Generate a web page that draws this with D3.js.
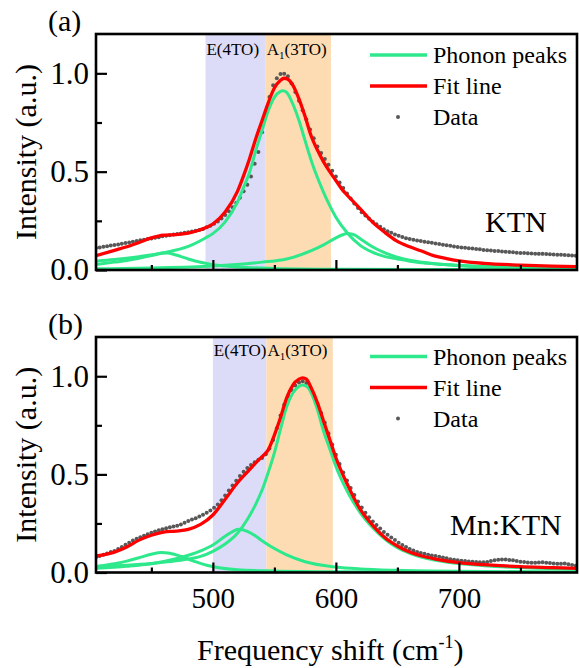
<!DOCTYPE html>
<html>
<head>
<meta charset="utf-8">
<script src="https://cdn.jsdelivr.net/npm/d3@7/dist/d3.min.js"></script>
<style>
body { margin: 0; background: #fff; }
svg text { font-family: "Liberation Serif", "Times New Roman", serif; fill: #000; }
</style>
</head>
<body>
<svg id="chart" width="579" height="668"></svg>
<script>
// raman shift grid of the measured points (cm-1)
var dataShift = d3.range(405, 796, 3);

// measured intensity, KTN
var dataA = [
	.112, .115, .118, .121, .124, .127, .130, .134, .137, .140, .144, .148, .151, .154, .157, .160,
	.164, .167, .171, .174, .177, .180, .183, .186, .189, .192, .196, .200, .204, .209, .217, .225,
	.235, .246, .262, .280, .299, .319, .341, .368, .400, .434, .475, .540, .600, .700, .800, .880,
	.940, .975, .997, .998, .985, .948, .905, .860, .812, .765, .715, .670, .628, .595, .565, .535,
	.505, .475, .445, .417, .389, .363, .338, .315, .294, .277, .260, .245, .232, .220, .207, .197,
	.189, .181, .174, .168, .162, .157, .154, .150, .147, .144, .141, .138, .135, .132, .129, .126,
	.123, .120, .117, .115, .113, .111, .109, .107, .105, .102, .101, .099, .097, .096, .094, .093,
	.091, .090, .088, .087, .086, .085, .084, .083, .082, .082, .081, .080, .079, .078, .077, .076,
	.075, .074, .073
];

// measured intensity, Mn:KTN
var dataB = [
	.078, .084, .090, .097, .104, .110, .120, .130, .141, .152, .163, .172, .179, .187, .195, .203,
	.209, .215, .221, .226, .230, .234, .238, .245, .254, .262, .270, .277, .285, .294, .304, .316,
	.330, .347, .368, .392, .418, .443, .468, .492, .514, .532, .548, .562, .574, .584, .603, .632,
	.675, .735, .800, .855, .898, .930, .953, .968, .975, .966, .940, .905, .860, .813, .763, .708,
	.652, .600, .553, .510, .469, .430, .395, .362, .331, .305, .281, .260, .242, .224, .207, .192,
	.178, .165, .152, .140, .130, .120, .112, .105, .099, .095, .091, .087, .084, .080, .076, .072,
	.068, .065, .062, .060, .058, .056, .055, .053, .052, .052, .054, .058, .062, .065, .066, .066,
	.064, .062, .058, .055, .053, .051, .050, .050, .051, .052, .050, .048, .046, .045, .045, .046,
	.042, .038, .035
];

// fit line, [shift, intensity]
var fitA = [[405, .073], [420, .10], [430, .118], [440, .14], [450, .163], [460, .177], [470, .18],
	[480, .188], [490, .205], [500, .234], [510, .295], [520, .40], [525, .48], [530, .57], [535, .67],
	[540, .76], [545, .85], [550, .925], [555, .965], [558, .975], [561, .97], [565, .94], [570, .87],
	[575, .78], [580, .68], [585, .61], [590, .55], [595, .50], [600, .455], [605, .41], [610, .375],
	[616, .336], [620, .31], [630, .242], [640, .19], [649, .149], [660, .118], [669, .098], [680, .072],
	[690, .058], [700, .047], [720, .034], [750, .025], [775, .02], [796, .017]];

var fitB = [[405, .084], [420, .104], [430, .13], [440, .165], [450, .19], [460, .206], [470, .211],
	[480, .22], [490, .245], [500, .293], [510, .373], [520, .457], [530, .525], [535, .56], [540, .59],
	[545, .625], [550, .70], [555, .79], [560, .89], [565, .955], [570, .985], [573, .992], [576, .985],
	[580, .94], [585, .865], [590, .771], [595, .678], [600, .585], [610, .44], [620, .32], [630, .24],
	[640, .177], [650, .135], [660, .104], [670, .084], [680, .07], [700, .05], [720, .04], [750, .03],
	[775, .025], [796, .021]];

// phonon peaks
var peaksA = [
	[[405, .028], [420, .04], [430, .048], [440, .06], [450, .073], [458, .085], [463, .087], [470, .076],
		[480, .056], [490, .039], [500, .027], [510, .02], [520, .015], [550, .008], [600, .004], [700, .002], [796, .001]],
	[[405, .045], [420, .053], [440, .068], [460, .088], [480, .12], [494, .163], [500, .185], [510, .245],
		[520, .345], [525, .42], [530, .50], [535, .61], [540, .71], [545, .81], [550, .878], [555, .908],
		[557, .912], [560, .903], [565, .844], [570, .76], [575, .657], [580, .556], [585, .47], [590, .395],
		[595, .327], [600, .268], [610, .183], [620, .124], [630, .09], [640, .068], [650, .056], [660, .045],
		[680, .032], [700, .024], [750, .014], [796, .009]],
	[[405, .006], [450, .01], [500, .02], [540, .04], [560, .056], [580, .098], [590, .128], [600, .163],
		[605, .178], [610, .185], [615, .178], [620, .158], [630, .117], [640, .087], [650, .065], [660, .05],
		[680, .032], [700, .022], [750, .011], [796, .006]]
];

var peaksB = [
	[[405, .03], [420, .045], [430, .058], [440, .075], [450, .093], [458, .102], [465, .098], [475, .08],
		[485, .057], [495, .037], [505, .024], [520, .014], [550, .008], [600, .004], [700, .002], [796, .001]],
	[[405, .022], [430, .032], [450, .045], [470, .07], [490, .11], [500, .14], [510, .185], [515, .205],
		[521, .22], [528, .21], [535, .185], [540, .162], [550, .122], [560, .09], [575, .055], [600, .028],
		[620, .018], [650, .011], [700, .006], [796, .003]],
	[[405, .03], [430, .037], [450, .046], [470, .06], [490, .082], [500, .108], [510, .145], [520, .20],
		[528, .27], [535, .35], [540, .42], [545, .51], [550, .61], [555, .73], [560, .845], [565, .915],
		[570, .948], [573, .955], [577, .945], [581, .9], [585, .83], [590, .72], [595, .63], [600, .54],
		[610, .405], [620, .303], [630, .228], [640, .169], [650, .126], [660, .098], [670, .078], [680, .064],
		[700, .046], [720, .035], [750, .025], [796, .016]]
];

// shaded mode regions: E(4TO) from [0] to [1], A1(3TO) from [1] to [2]
var bandsA = [494, 543, 596];
var bandsB = [500, 543.5, 597.5];

var sampleNames = ["KTN", "Mn:KTN"];
var panelLetters = ["(a)", "(b)"];
var majorX = [500, 600, 700], minorX = [450, 550, 650, 750];
var majorY = [0, 0.5, 1.0], minorY = [0.25, 0.75];

var svg = d3.select("#chart"),
	left = 96,
	right = 577,
	green = "#2ee88c",
	red = "#ff0000",
	gray = "#585858";

var x = d3.scaleLinear().domain([405, 796]).range([left, right]);

var panels = [
	{ top: 34, bottom: 270, data: dataA, fit: fitA, peaks: peaksA, bands: bandsA, labels: false, bandText: 21, legend: 55 },
	{ top: 337, bottom: 572.5, data: dataB, fit: fitB, peaks: peaksB, bands: bandsB, labels: true, bandText: 19, legend: 356.5 }
];

panels.forEach(function (p, i) {
	var y = d3.scaleLinear().domain([0, 1.2]).range([p.bottom, p.top]);
	var g = svg.append("g");

	var clip = "clip" + i;
	svg.append("clipPath").attr("id", clip)
		.append("rect")
		.attr("x", left).attr("y", p.top)
		.attr("width", right - left).attr("height", p.bottom - p.top);

	// shaded regions
	g.append("rect")
		.attr("x", x(p.bands[0])).attr("y", p.top)
		.attr("width", x(p.bands[1]) - x(p.bands[0])).attr("height", p.bottom - p.top)
		.attr("fill", "#dcdcf8");
	g.append("rect")
		.attr("x", x(p.bands[1])).attr("y", p.top)
		.attr("width", x(p.bands[2]) - x(p.bands[1])).attr("height", p.bottom - p.top)
		.attr("fill", "#fddcb4");

	g.append("text")
		.attr("x", x(p.bands[0]) + 1).attr("y", p.top + p.bandText)
		.attr("font-size", 17)
		.text("E(4TO)");
	var a1 = g.append("text")
		.attr("x", x(p.bands[1]) + 1).attr("y", p.top + p.bandText)
		.attr("font-size", 17);
	a1.append("tspan").text("A");
	a1.append("tspan").attr("font-size", 11).attr("dy", 4).text("1");
	a1.append("tspan").attr("dy", -4).text("(3TO)");

	var plot = g.append("g").attr("clip-path", "url(#" + clip + ")");

	// measured points
	var points = dataShift.map(function (s, k) { return [s, p.data[k]]; })
		.filter(function (d) { return d[1] !== undefined; });
	plot.append("g")
		.selectAll("circle")
		.data(points)
		.enter().append("circle")
		.attr("cx", function (d) { return x(d[0]); })
		.attr("cy", function (d) { return y(d[1]); })
		.attr("r", 2)
		.attr("fill", gray);

	var line = d3.line()
		.x(function (d) { return x(d[0]); })
		.y(function (d) { return y(d[1]); })
		.curve(d3.curveMonotoneX);

	plot.append("g")
		.selectAll("path")
		.data(p.peaks)
		.enter().append("path")
		.attr("d", line)
		.attr("fill", "none")
		.attr("stroke", green)
		.attr("stroke-width", 3);

	plot.append("path")
		.attr("d", line(p.fit))
		.attr("fill", "none")
		.attr("stroke", red)
		.attr("stroke-width", 3.3);

	// axes, ticks pointing inwards
	var xMajor = d3.axisBottom(x).tickValues(majorX).tickSizeInner(-10).tickSizeOuter(0).tickPadding(15);
	if (!p.labels) xMajor.tickFormat("");
	var ax = g.append("g").attr("transform", "translate(0," + p.bottom + ")").call(xMajor);
	g.append("g").attr("transform", "translate(0," + p.bottom + ")")
		.call(d3.axisBottom(x).tickValues(minorX).tickSizeInner(-5).tickSizeOuter(0).tickFormat(""));

	var ay = g.append("g").attr("transform", "translate(" + left + ",0)")
		.call(d3.axisLeft(y).tickValues(majorY).tickSizeInner(-11).tickSizeOuter(0)
			.tickPadding(7).tickFormat(d3.format(".1f")));
	g.append("g").attr("transform", "translate(" + left + ",0)")
		.call(d3.axisLeft(y).tickValues(minorY).tickSizeInner(-6).tickSizeOuter(0).tickFormat(""));

	g.selectAll(".domain").remove();
	g.selectAll(".tick line").attr("stroke", "#000").attr("stroke-width", 2.2);
	g.selectAll(".tick text")
		.attr("font-family", "Liberation Serif, Times New Roman, serif")
		.attr("fill", "#000");
	ax.selectAll(".tick text").attr("font-size", 29);
	ay.selectAll(".tick text").attr("font-size", 31);

	// frame
	g.append("rect")
		.attr("x", left).attr("y", p.top)
		.attr("width", right - left).attr("height", p.bottom - p.top)
		.attr("fill", "none")
		.attr("stroke", "#000")
		.attr("stroke-width", 2.6);

	// y title
	g.append("text")
		.attr("transform", "translate(36," + ((p.top + p.bottom) / 2) + ") rotate(-90)")
		.attr("text-anchor", "middle")
		.attr("font-size", 30)
		.text("Intensity (a.u.)");

	g.append("text")
		.attr("x", 48).attr("y", p.top - 3)
		.attr("font-size", 30)
		.text(panelLetters[i]);

	g.append("text")
		.attr("x", i === 0 ? 485 : 450).attr("y", p.bottom - 38)
		.attr("font-size", 30)
		.text(sampleNames[i]);

	// legend
	var lg = g.append("g").attr("transform", "translate(0," + p.legend + ")");
	var items = ["Phonon peaks", "Fit line", "Data"];
	items.forEach(function (name, k) {
		var ly = k * 31;
		if (k < 2) {
			lg.append("line")
				.attr("x1", 370).attr("x2", 427)
				.attr("y1", ly).attr("y2", ly)
				.attr("stroke", k === 0 ? green : red)
				.attr("stroke-width", 3.3);
		} else {
			lg.append("circle").attr("cx", 398).attr("cy", ly).attr("r", 2).attr("fill", gray);
		}
		lg.append("text")
			.attr("x", 433).attr("y", ly + 8)
			.attr("font-size", 24)
			.text(name);
	});
});

// x title
var xt = svg.append("text")
	.attr("x", 197).attr("y", 660)
	.attr("font-size", 30);
xt.append("tspan").text("Frequency shift (cm");
xt.append("tspan").attr("font-size", 18).attr("dy", -12).text("-1");
xt.append("tspan").attr("dy", 12).text(")");
</script>
</body>
</html>
